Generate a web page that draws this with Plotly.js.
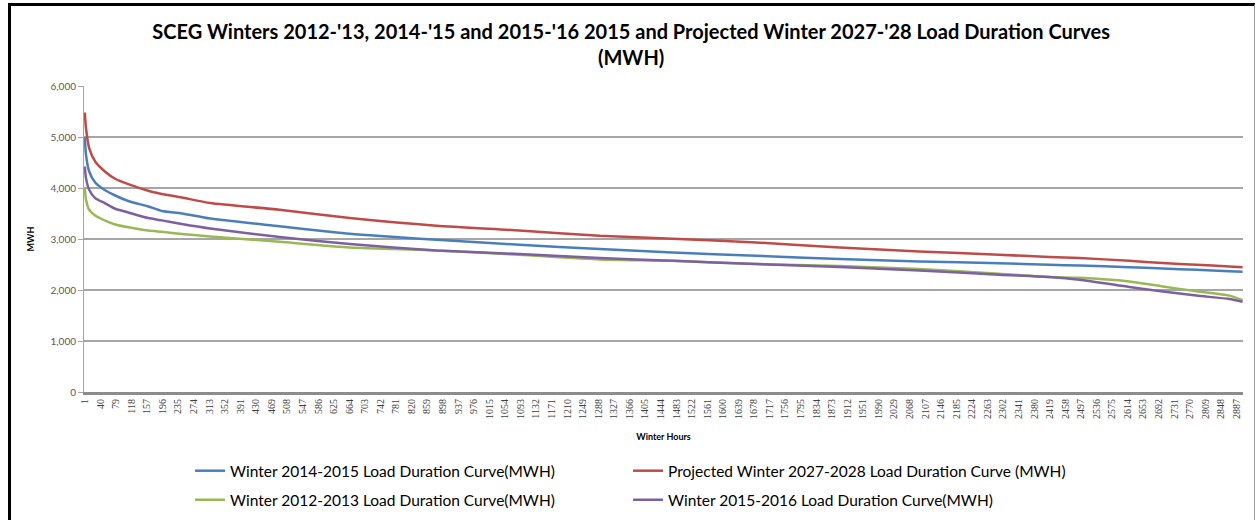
<!DOCTYPE html>
<html>
<head>
<meta charset="utf-8">
<script src="https://cdn.plot.ly/plotly-3.0.1.min.js"></script>
<style>
  html, body { margin: 0; padding: 0; background: #ffffff; }
  #wrap { position: relative; width: 1258px; height: 520px; overflow: hidden; }
  #chart { position: absolute; left: 0; top: 0; width: 1258px; height: 520px; }
  #frame { position: absolute; left: 8px; top: 3px; width: 1243px; height: 600px;
           border-top: 3px solid #000; border-left: 3px solid #000; border-right: 1px solid #9a9a9a;
           pointer-events: none; }
</style>
</head>
<body>
<div id="wrap">
  <div id="chart"></div>
  <div id="frame"></div>
</div>
<script>
// Sampled winter hours (rank order of the load duration curves)
const hours = [1, 4, 12, 27, 52, 77, 110, 160, 194, 244, 315, 489, 665, 882, 1090, 1291, 1474, 1683, 1892, 2092, 2292, 2418, 2493, 2618, 2702, 2786, 2869, 2902];

const winter1415 = [4998, 4651, 4324, 4108, 3955, 3853, 3745, 3638, 3550, 3501, 3400, 3250, 3103, 2985, 2887, 2803, 2737, 2671, 2607, 2560, 2525, 2495, 2480, 2448, 2420, 2398, 2370, 2358];
const projected2728 = [5480, 5174, 4782, 4520, 4320, 4181, 4075, 3945, 3884, 3814, 3705, 3573, 3410, 3259, 3168, 3063, 3005, 2932, 2834, 2756, 2691, 2646, 2626, 2573, 2528, 2495, 2462, 2445];
const winter1213 = [3998, 3769, 3573, 3460, 3360, 3285, 3230, 3165, 3140, 3100, 3050, 2945, 2834, 2775, 2690, 2600, 2573, 2509, 2470, 2411, 2319, 2254, 2240, 2168, 2070, 1975, 1890, 1800];
const winter1516 = [4422, 4194, 3965, 3802, 3700, 3593, 3520, 3410, 3365, 3293, 3205, 3040, 2900, 2775, 2705, 2626, 2573, 2509, 2450, 2383, 2299, 2254, 2201, 2060, 1972, 1890, 1823, 1770];

const seriesNames = [
  "Winter 2014-2015 Load Duration Curve(MWH)",
  "Projected Winter 2027-2028 Load Duration Curve (MWH)",
  "Winter 2012-2013 Load Duration Curve(MWH)",
  "Winter 2015-2016 Load Duration Curve(MWH)"
];
const seriesColors = ["#4a7ebb", "#be4b48", "#98b954", "#7d60a0"];
const seriesLegends = ["legend", "legend", "legend2", "legend2"];

// Category tick labels shown on the x axis (every 39th hour)
const xTickLabels = [1, 40, 79, 118, 157, 196, 235, 274, 313, 352, 391, 430, 469, 508, 547, 586, 625, 664, 703, 742, 781, 820, 859, 898, 937, 976, 1015, 1054, 1093, 1132, 1171, 1210, 1249, 1288, 1327, 1366, 1405, 1444, 1483, 1522, 1561, 1600, 1639, 1678, 1717, 1756, 1795, 1834, 1873, 1912, 1951, 1990, 2029, 2068, 2107, 2146, 2185, 2224, 2263, 2302, 2341, 2380, 2419, 2458, 2497, 2536, 2575, 2614, 2653, 2692, 2731, 2770, 2809, 2848, 2887];

const yTicks = [0, 1000, 2000, 3000, 4000, 5000, 6000];

const seriesValues = [winter1415, projected2728, winter1213, winter1516];

const traces = seriesValues.map((vals, i) => ({
  type: "scatter",
  mode: "lines",
  x: hours,
  y: vals,
  name: seriesNames[i],
  legend: seriesLegends[i],
  line: { color: seriesColors[i], width: 2.5, shape: "spline", smoothing: 0.6 },
  hoverinfo: "x+y+name"
}));

const legendFont = { family: "Lato, sans-serif", size: 15.5, color: "#000000" };

const layout = {
  width: 1258,
  height: 520,
  paper_bgcolor: "#ffffff",
  plot_bgcolor: "#ffffff",
  margin: { l: 84, r: 15, t: 86, b: 128, pad: 0, autoexpand: false },
  font: { family: "Lato, 'Open Sans', sans-serif", color: "#000000" },
  title: {
    text: "SCEG Winters 2012-'13, 2014-'15 and 2015-'16 2015 and Projected Winter 2027-'28 Load Duration Curves<br>(MWH)",
    font: { family: "Lato, sans-serif", size: 20, weight: "bold", color: "#000000" },
    x: 0.5017, xref: "container", xanchor: "center",
    y: 0.925, yref: "container", yanchor: "middle"
  },
  xaxis: {
    type: "linear",
    range: [-1, 2903],
    tickmode: "array",
    tickvals: xTickLabels,
    ticktext: xTickLabels.map(String),
    tickangle: -90,
    ticks: "",
    tickfont: { family: "'Liberation Serif', serif", size: 10, color: "#404040" },
    showgrid: false,
    zeroline: false,
    showline: true,
    linecolor: "#8c8c8c",
    linewidth: 3,
    fixedrange: true,
    automargin: false,
    title: {
      text: "Winter Hours",
      font: { family: "Lato, sans-serif", size: 9, weight: "bold", color: "#000000" },
      standoff: 16
    }
  },
  yaxis: {
    range: [0, 6000],
    tickmode: "array",
    tickvals: yTicks,
    tickformat: ",d",
    ticks: "outside",
    ticklen: 5,
    tickcolor: "#a6a6a6",
    tickfont: { family: "Lato, sans-serif", size: 10, color: "#595959" },
    showgrid: true,
    gridcolor: "#a6a6a6",
    gridwidth: 1.5,
    zeroline: false,
    showline: true,
    linecolor: "#a6a6a6",
    linewidth: 1,
    fixedrange: true,
    automargin: false,
    title: {
      text: "MWH",
      font: { family: "Lato, sans-serif", size: 9, weight: "bold", color: "#000000" },
      standoff: 14
    }
  },
  showlegend: true,
  legend: {
    orientation: "h",
    x: 0.0915, xanchor: "left",
    y: -0.203, yanchor: "top",
    entrywidth: 393,
    entrywidthmode: "pixels",
    traceorder: "normal",
    font: legendFont,
    bgcolor: "rgba(0,0,0,0)",
    borderwidth: 0
  },
  legend2: {
    orientation: "h",
    x: 0.0915, xanchor: "left",
    y: -0.298, yanchor: "top",
    entrywidth: 393,
    entrywidthmode: "pixels",
    traceorder: "normal",
    font: legendFont,
    bgcolor: "rgba(0,0,0,0)",
    borderwidth: 0
  }
};

Plotly.newPlot("chart", traces, layout, { displayModeBar: false, staticPlot: true });
</script>
</body>
</html>
